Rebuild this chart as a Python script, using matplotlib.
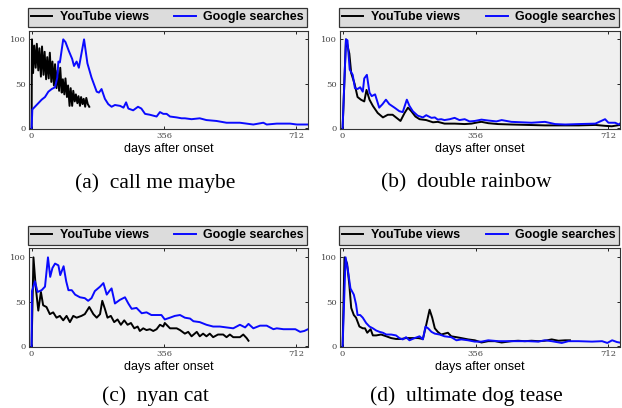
import matplotlib
matplotlib.use("Agg")
import matplotlib.pyplot as plt

# (a) call me maybe
cmm_yt_days = [0, 1, 4, 7, 11, 14, 18, 21, 25, 28, 32, 35, 39, 42, 46, 49, 53, 56, 60, 63, 67,
               70, 74, 77, 81, 84, 88, 91, 95, 98, 102, 105, 109, 112, 116, 119, 123, 126, 130,
               133, 137, 140, 144, 147, 151, 155]
cmm_yt = [0, 100, 62, 93, 68, 95, 65, 90, 58, 92, 60, 86, 55, 80, 56, 85, 52, 75, 48, 72, 45,
          65, 42, 68, 40, 55, 38, 56, 35, 48, 25, 45, 25, 42, 30, 38, 28, 36, 25,
          35, 27, 33, 24, 34, 27, 24]
cmm_g_days = [0, 2, 18, 27, 36, 45, 54, 63, 69, 72, 76, 85, 91, 100, 109, 114, 121, 127, 141,
              150, 161, 175, 181, 188, 197, 206, 215, 224, 238, 247, 254, 260, 273, 286, 295,
              305, 318, 336, 345, 354, 363, 372, 390, 403, 412, 430, 452, 470, 497, 524, 560,
              596, 623, 632, 659, 695, 713, 744]
cmm_g = [0, 21, 28, 32, 35, 41, 44, 46, 57, 75, 74, 100, 97, 87, 78, 70, 75, 68, 100,
         73, 57, 41, 40, 44, 33, 27, 24, 26, 25, 23, 29, 22, 20, 24, 22,
         16, 15, 13, 18, 16, 16, 13, 12, 11, 11, 10, 11, 9, 8, 6, 6,
         4, 6, 4, 5, 5, 4, 4]

# (b) double rainbow
dr_yt_days = [0, 9, 18, 23, 32, 40, 49, 58, 64, 72, 81, 94, 108, 121, 134, 155, 166, 175, 184,
              195, 206, 224, 242, 255, 273, 300, 327, 345, 363, 372, 390, 416, 452, 497, 542,
              590, 632, 677, 703, 721, 743]
dr_yt = [0, 100, 84, 62, 50, 35, 32, 30, 43, 32, 25, 17, 12, 15, 15, 8, 17, 23, 19,
         13, 10, 9, 6.5, 7, 5, 5, 4.5, 5, 6.5, 7, 5.5, 4.5, 4, 3.5, 3,
         3, 3, 3.5, 2.5, 2, 3.5]
dr_g_days = [0, 9, 13, 19, 27, 33, 40, 47, 54, 58, 65, 72, 78, 87, 98, 107, 116, 125, 139,
             152, 161, 172, 179, 188, 201, 215, 224, 238, 247, 255, 264, 273, 287, 300, 313,
             327, 340, 354, 372, 390, 412, 426, 452, 479, 506, 542, 569, 596, 632, 677, 703,
             712, 730, 740, 748]
dr_g = [0, 100, 99, 66, 60, 45, 44, 46, 41, 56, 60, 40, 36, 38, 23, 27, 32, 27, 23,
        19, 18, 32, 25, 19, 14, 12, 14.5, 11.5, 12, 9.5, 10, 9, 10, 11.5, 9,
        10, 7.5, 8, 9.5, 8.5, 7.5, 9, 7, 6.5, 6, 7, 4.5, 4, 4.5, 5, 10,
        6, 6, 4, 7]

# (c) nyan cat
nc_yt_days = [0, 5, 11, 18, 25, 31, 40, 49, 58, 67, 76, 85, 94, 103, 112, 121, 134, 143, 155,
              166, 175, 184, 190, 197, 204, 213, 222, 231, 240, 249, 258, 267, 276, 285, 291,
              300, 309, 318, 327, 336, 345, 354, 358, 372, 390, 399, 412, 421, 430, 444, 452,
              461, 470, 479, 488, 501, 515, 524, 533, 542, 560, 569, 578, 583]
nc_yt = [0, 100, 67, 40, 61, 46, 44, 36, 38, 32, 34, 29, 34, 27, 34, 32, 34, 36, 44,
         36, 32, 36, 51, 42, 32, 34, 27, 30, 24, 29, 24, 26, 20, 22, 17,
         20, 18, 19, 17, 19, 24, 22, 26, 20, 20, 18, 14, 16, 11, 16, 11,
         14, 11, 14, 10, 13, 13, 10, 13, 10, 10, 13, 9, 6]
nc_g_days = [0, 1, 9, 16, 27, 36, 44, 50, 56, 63, 72, 77, 86, 93, 99, 108, 117, 130, 143,
             152, 161, 170, 184, 193, 202, 209, 215, 224, 237, 251, 260, 269, 282, 296, 309,
             322, 336, 349, 358, 372, 385, 399, 412, 426, 435, 452, 470, 488, 506, 524, 542,
             560, 574, 583, 596, 614, 632, 650, 659, 677, 695, 709, 722, 733, 748]
nc_g = [0, 62, 73, 61, 63, 67, 100, 78, 88, 93, 91, 80, 90, 73, 63, 63, 58, 55, 54,
        51, 54, 62, 67, 71, 58, 62, 65, 48, 52, 55, 48, 42, 43, 37, 38,
        35, 35, 35, 30, 32, 34, 35, 32, 31, 28, 27, 24, 22, 22, 21, 20,
        24, 21, 25, 20, 23, 23, 19, 20, 19, 19, 19, 16, 17, 20]

# (d) ultimate dog tease
udt_yt_days = [0, 5, 12, 18, 23, 30, 36, 45, 54, 60, 66, 75, 81, 90, 103, 117, 130, 143, 157,
               170, 184, 202, 215, 224, 233, 240, 247, 255, 264, 273, 282, 291, 305, 318, 336,
               354, 372, 390, 408, 426, 452, 470, 488, 506, 524, 542, 560, 578, 596, 609]
udt_yt = [0, 100, 93, 69, 43, 35, 32, 22, 20, 20, 15, 19, 12, 12, 13, 11, 9, 8, 8,
          9, 9, 9, 8, 24, 41, 32, 20, 16, 13, 14, 15, 11, 10, 9, 7.5,
          6.5, 4, 5.5, 5.5, 4, 5.5, 6, 5.5, 6, 5.5, 6, 7.5, 6, 6.5, 6.5]
udt_g_days = [0, 8, 14, 21, 30, 36, 40, 47, 54, 63, 72, 81, 90, 99, 108, 117, 130, 143, 152,
              161, 170, 179, 193, 206, 215, 222, 229, 238, 247, 260, 273, 291, 305, 318, 336,
              354, 372, 390, 417, 444, 470, 497, 524, 542, 560, 587, 605, 632, 668, 695, 709,
              722, 735, 748]
udt_g = [0, 100, 86, 65, 58, 47, 35, 35, 32, 26, 22, 20, 17.5, 16, 15, 13, 13, 12, 9,
         7.5, 10, 6.5, 9, 11, 7.5, 22, 20, 16, 14, 13, 11, 10, 6.5, 7.5, 6.5,
         5, 5, 6.5, 5.5, 5.5, 5.5, 5.5, 5, 6.5, 5.5, 3.5, 5.5, 5.5, 5, 5.5, 3.5,
         6.5, 4.5, 3.5]

panels = [
    ("(a)  call me maybe", cmm_yt_days, cmm_yt, cmm_g_days, cmm_g),
    ("(b)  double rainbow", dr_yt_days, dr_yt, dr_g_days, dr_g),
    ("(c)  nyan cat", nc_yt_days, nc_yt, nc_g_days, nc_g),
    ("(d)  ultimate dog tease", udt_yt_days, udt_yt, udt_g_days, udt_g),
]

W, H = 622, 408
fig = plt.figure(figsize=(W / 100, H / 100), dpi=100)

# axes boxes in pixels: left, top, width, height
boxes = [(29, 30.5, 279, 98), (340, 30.5, 280, 98),
         (29, 248.5, 279, 98), (340, 248.5, 280, 98)]
caption_y = [183, 396]

for i, (cap, yd, yv, gd, gv) in enumerate(panels):
    l, t, w, h = boxes[i]
    ax = fig.add_axes([l / W, 1 - (t + h) / H, w / W, h / H])
    ax.set_facecolor("#f0f0f0")
    ax.plot(yd, yv, color="black", lw=1.4, label="YouTube views")
    ax.plot(gd, gv, color="#0a0aff", lw=1.4, label="Google searches")
    ax.set_xlim(-7, 743)
    ax.set_ylim(-0.5, 110)
    ax.set_xticks([0, 356, 712])
    ax.set_yticks([0, 50, 100])
    ax.tick_params(direction="in", length=2.5, width=0.6, top=True, right=True,
                   labelsize=6, labelcolor="#444444", pad=2.5)
    for lab in ax.get_xticklabels() + ax.get_yticklabels():
        lab.set_family("DejaVu Serif")
    for s in ax.spines.values():
        s.set_linewidth(0.8)
        s.set_color("#333333")
    ax.set_xlabel("days after onset", fontsize=9, family="Liberation Sans", labelpad=2)
    leg = ax.legend(loc="lower left", bbox_to_anchor=(-0.004, 1.04, 1.0, 0.2), mode="expand",
                    ncol=2, fancybox=False, framealpha=1, facecolor="#dcdcdc",
                    edgecolor="#333333", borderaxespad=0, borderpad=0.25,
                    handlelength=1.7, handletextpad=0.6,
                    prop={"family": "Liberation Sans", "weight": "bold", "size": 9})
    leg.get_frame().set_linewidth(0.9)
    cx = 155.5 + 311 * (i % 2)
    fig.text(cx / W, 1 - caption_y[i // 2] / H, cap, ha="center", va="center",
             fontsize=15.5, family="Liberation Serif")

fig.savefig("out.png", dpi=100)
